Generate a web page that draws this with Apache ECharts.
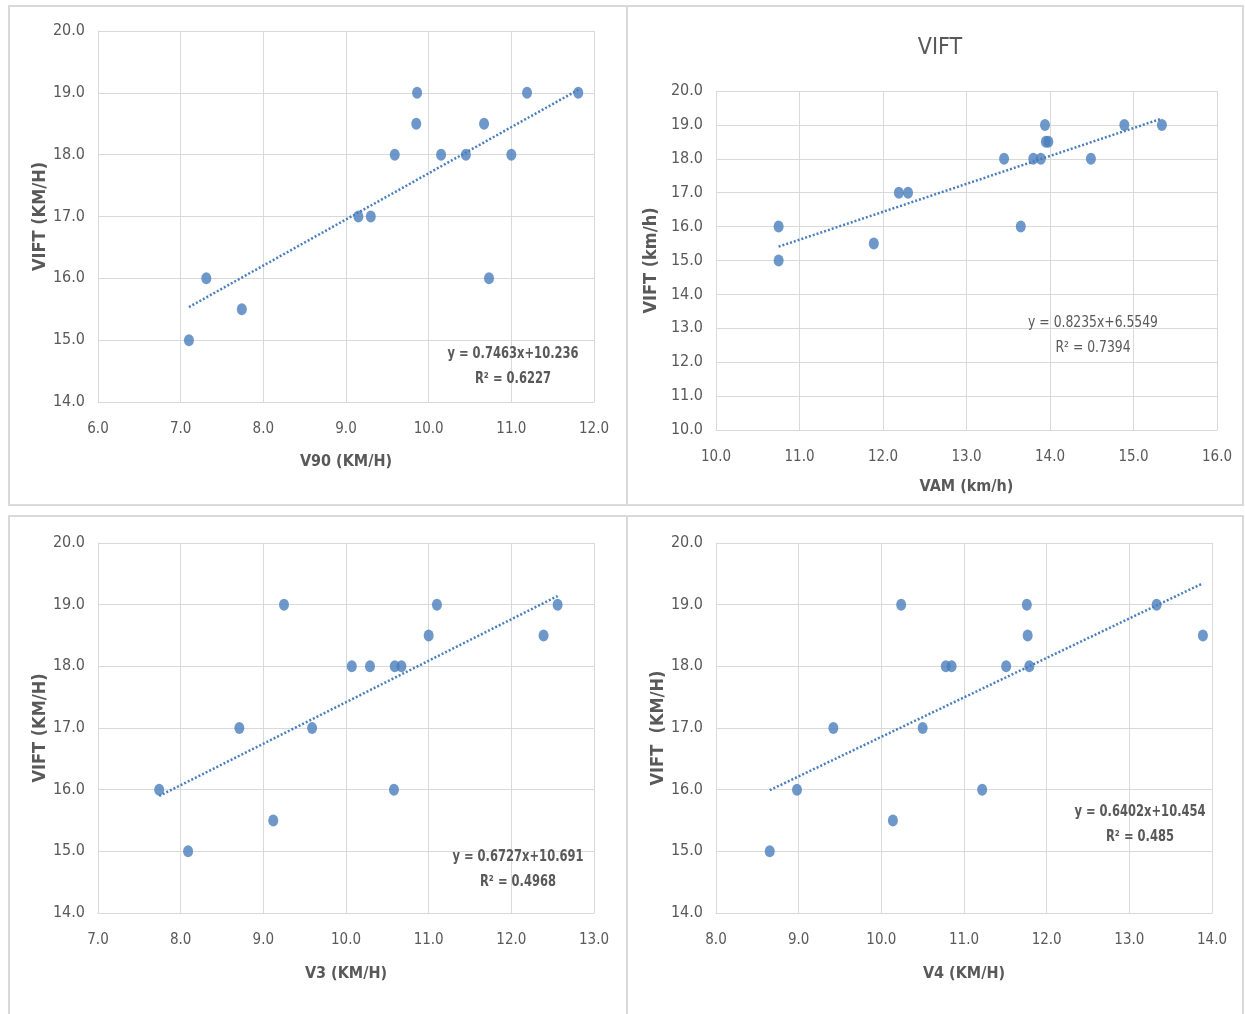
<!DOCTYPE html>
<html>
<head>
<meta charset="utf-8">
<script src="https://cdn.jsdelivr.net/npm/echarts@6/dist/echarts.min.js"></script>
<style>
  html, body { margin: 0; padding: 0; background: #fff; }
  #chart { width: 1245px; height: 1014px; }
</style>
</head>
<body>
<div id="chart"></div>
<script>
// V90 vs VIFT
const v90X = [7.10, 7.31, 7.74, 9.15, 9.30, 9.59, 9.85, 9.86, 10.15, 10.45, 10.67, 10.73, 11.00, 11.19, 11.81];
const v90Y = [15.0, 16.0, 15.5, 17.0, 17.0, 18.0, 18.5, 19.0, 18.0, 18.0, 18.5, 16.0, 18.0, 19.0, 19.0];
// VAM vs VIFT
const vamX = [10.75, 10.75, 11.89, 12.19, 12.30, 13.45, 13.65, 13.80, 13.89, 13.94, 13.95, 13.98, 14.49, 14.89, 15.34];
const vamY = [16.0, 15.0, 15.5, 17.0, 17.0, 18.0, 16.0, 18.0, 18.0, 19.0, 18.5, 18.5, 18.0, 19.0, 19.0];
// V3 vs VIFT
const v3X = [7.74, 8.09, 8.71, 9.12, 9.25, 9.59, 10.07, 10.29, 10.58, 10.59, 10.67, 11.00, 11.10, 12.39, 12.56];
const v3Y = [16.0, 15.0, 17.0, 15.5, 19.0, 17.0, 18.0, 18.0, 16.0, 18.0, 18.0, 18.5, 19.0, 18.5, 19.0];
// V4 vs VIFT
const v4X = [8.65, 8.98, 9.42, 10.14, 10.24, 10.50, 10.78, 10.85, 11.22, 11.51, 11.76, 11.77, 11.79, 13.33, 13.89];
const v4Y = [15.0, 16.0, 17.0, 15.5, 19.0, 17.0, 18.0, 18.0, 16.0, 18.0, 19.0, 18.5, 18.0, 19.0, 18.5];

// trendline coefficients [slope, intercept, r2]
const trends = [
  [0.7463, 10.236, '0.6227'],
  [0.8235, 6.5549, '0.7394'],
  [0.6727, 10.691, '0.4968'],
  [0.6402, 10.454, '0.485']
];

const xNames = ['V90 (KM/H)', 'VAM (km/h)', 'V3 (KM/H)', 'V4 (KM/H)'];
const yNames = ['VIFT (KM/H)', 'VIFT (km/h)', 'VIFT (KM/H)', 'VIFT  (KM/H)'];
const xRanges = [[6, 12], [10, 16], [7, 13], [8, 14]];
const yRanges = [[14, 20], [10, 20], [14, 20], [14, 20]];

const FONT = '"DejaVu Sans Condensed", "Liberation Sans Narrow", "Liberation Sans", sans-serif';
const GRAY = '#595959';
const BLUE = '#4a7ebb';

const grids = [
  { left: 98, top: 31, width: 496, height: 371 },
  { left: 716, top: 91, width: 501, height: 339 },
  { left: 98, top: 543, width: 496, height: 370 },
  { left: 716, top: 543, width: 496, height: 370 }
];
const xGaps = [52, 49, 53, 53];
const yGaps = [46, 56, 46, 46];

const datasets = [[v90X, v90Y], [vamX, vamY], [v3X, v3Y], [v4X, v4Y]];

const xAxis = [], yAxis = [], series = [];
datasets.forEach(([xs, ys], i) => {
  xAxis.push({
    type: 'value', gridIndex: i, min: xRanges[i][0], max: xRanges[i][1], interval: 1,
    name: xNames[i], nameLocation: 'middle', nameGap: xGaps[i],
    nameTextStyle: { fontFamily: FONT, fontSize: 16, fontWeight: 'bold', color: GRAY },
    axisLine: { show: true, lineStyle: { color: '#d9d9d9' } },
    axisTick: { show: false },
    axisLabel: { fontFamily: FONT, fontSize: 15, color: GRAY, margin: 20, formatter: v => v.toFixed(1) },
    splitLine: { show: true, lineStyle: { color: '#d9d9d9' } }
  });
  yAxis.push({
    type: 'value', gridIndex: i, min: yRanges[i][0], max: yRanges[i][1], interval: 1,
    name: yNames[i], nameLocation: 'middle', nameGap: yGaps[i],
    nameTextStyle: { fontFamily: FONT, fontSize: 18, fontWeight: 'bold', color: GRAY },
    axisLine: { show: true, lineStyle: { color: '#d9d9d9' } },
    axisTick: { show: false },
    axisLabel: { fontFamily: FONT, fontSize: 16, color: GRAY, margin: 13, formatter: v => v.toFixed(1) },
    splitLine: { show: true, lineStyle: { color: '#d9d9d9' } }
  });
  const [a, b] = trends[i];
  const xmin = Math.min(...xs), xmax = Math.max(...xs);
  series.push({
    type: 'line', xAxisIndex: i, yAxisIndex: i, symbol: 'none', silent: true,
    lineStyle: { color: BLUE, width: 2.5, type: [2, 2] },
    data: [[xmin, a * xmin + b], [xmax, a * xmax + b]], z: 2
  });
  series.push({
    type: 'scatter', xAxisIndex: i, yAxisIndex: i,
    symbol: 'circle', symbolSize: [10, 12],
    itemStyle: { color: BLUE },
    data: xs.map((x, k) => [x, ys[k]]), z: 3
  });
});

// equation labels: centre x, y of first line, bold
const eqPos = [[513, 354, true], [1093, 323, false], [518, 857, true], [1140, 812, true]];
const graphic = [];
// panel frames
[[9, 6, 618, 499], [627, 6, 616, 499], [9, 516, 618, 500], [627, 516, 616, 500]].forEach(r => {
  graphic.push({ type: 'rect', shape: { x: r[0], y: r[1], width: r[2], height: r[3] },
    style: { fill: 'none', stroke: '#d9d9d9', lineWidth: 2 }, z: -1 });
});
trends.forEach((t, i) => {
  const [x, y, bold] = eqPos[i];
  const font = (bold ? 'bold ' : '') + '16px ' + FONT;
  const sx = bold ? 0.8 : 0.86;
  graphic.push({ type: 'text', x: x, y: y, scaleX: sx, z: 10,
    style: { text: 'y = ' + t[0] + 'x+' + t[1], x: 0, y: 0, align: 'center', verticalAlign: 'middle',
      font: font, fill: GRAY } });
  graphic.push({ type: 'text', x: x, y: y + 25, scaleX: sx, z: 10,
    style: { text: 'R² = ' + t[2], x: 0, y: 0, align: 'center', verticalAlign: 'middle',
      font: font, fill: GRAY } });
});

const chart = echarts.init(document.getElementById('chart'));
chart.setOption({
  backgroundColor: '#fff',
  animation: false,
  title: { text: 'VIFT', left: 935, top: 32, textAlign: 'center',
    textStyle: { fontFamily: FONT, fontSize: 23, fontWeight: 'normal', color: GRAY } },
  grid: grids,
  xAxis, yAxis, series, graphic
});
</script>
</body>
</html>
